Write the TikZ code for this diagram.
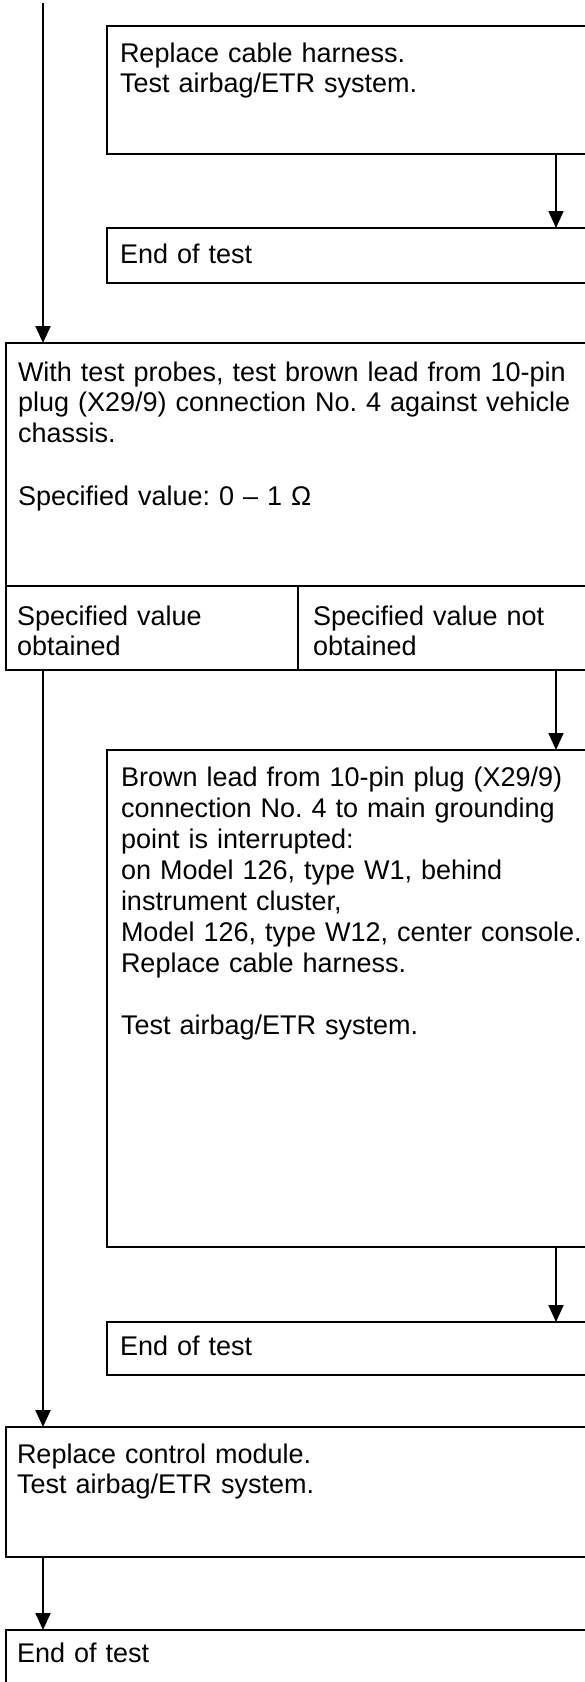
\documentclass[tikz,border=0pt]{standalone}
\usepackage{fontspec}
\setmainfont{Liberation Sans}
\usetikzlibrary{arrows.meta}
\frenchspacing
\tikzset{
  box/.style={draw=black, line width=1.2pt, anchor=north west, inner sep=0pt, outer sep=0pt},
  txt/.style={anchor=base west, inner sep=0pt, outer sep=0pt, text width=560pt, align=left,
              font=\fontsize{27}{30.5}\selectfont\frenchspacing},
  mainline/.style={line width=2pt, -{Triangle[width=15pt,length=17pt]}},
  sideline/.style={line width=1.5pt, -{Triangle[width=15pt,length=17pt]}}
}
\begin{document}
\begin{tikzpicture}[x=1pt,y=-1pt]
\useasboundingbox (0,0) rectangle (585,1682);
\clip (0,0) rectangle (585,1682);
% boxes
\node[box, minimum width=485pt, minimum height=128pt] (b1) at (107,26) {};
\node[box, minimum width=485pt, minimum height=55pt]  (b2) at (107,228) {};
\node[box, minimum width=586pt, minimum height=243pt] (b3) at (6,343) {};
\node[box, minimum width=292pt, minimum height=84pt]  (s1) at (6,586) {};
\node[box, minimum width=294pt, minimum height=84pt]  (s2) at (298,586) {};
\node[box, minimum width=485pt, minimum height=497pt] (b4) at (107,750) {};
\node[box, minimum width=485pt, minimum height=53pt]  (b5) at (107,1322) {};
\node[box, minimum width=586pt, minimum height=130pt] (b6) at (6,1427) {};
\node[box, minimum width=586pt, minimum height=80pt]  (b7) at (6,1630) {};
% texts
\node[txt] (t1) at (120,62) {Replace cable harness.\\Test airbag/ETR system.};
\node[txt] (t2) at (120,263) {End of test};
\node[txt] (t3) at (18,381) {With test probes, test brown lead from 10-pin\\plug (X29/9) connection No. 4 against vehicle\\chassis.\\[33pt]Specified value: 0 -- 1 Ω};
\node[txt] (t4) at (17,625) {Specified value\\obtained};
\node[txt] (t5) at (313,625) {Specified value not\\obtained};
\node[txt, font=\fontsize{27}{31}\selectfont\frenchspacing] (t6) at (121,786) {Brown lead from 10-pin plug (X29/9)\\connection No. 4 to main grounding\\point is interrupted:\\on Model 126, type W1, behind\\instrument cluster,\\Model 126, type W12, center console.\\Replace cable harness.\\[31pt]Test airbag/ETR system.};
\node[txt] (t7) at (120,1355) {End of test};
\node[txt] (t8) at (17,1463) {Replace control module.\\Test airbag/ETR system.};
\node[txt] (t9) at (17,1662) {End of test};
% connectors
\coordinate (L) at (43,3);
\coordinate (R) at (556,0);
\draw[mainline] (L) -- (L |- b3.north);
\draw[sideline] (R |- b1.south) -- (R |- b2.north);
\draw[sideline] (R |- s2.south) -- (R |- b4.north);
\draw[mainline] (L |- s1.south) -- (L |- b6.north);
\draw[sideline] (R |- b4.south) -- (R |- b5.north);
\draw[mainline] (L |- b6.south) -- (L |- b7.north);
\end{tikzpicture}
\end{document}
